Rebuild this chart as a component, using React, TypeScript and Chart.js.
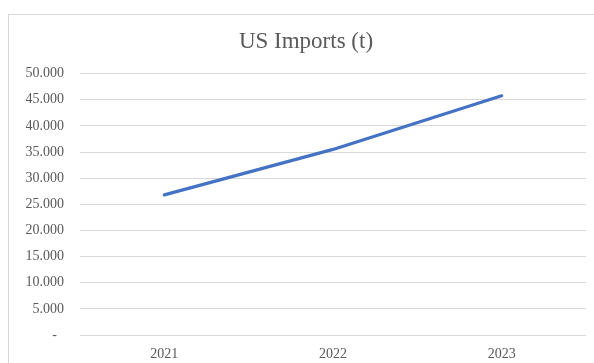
import React, { useEffect, useRef } from "react";
import { Chart, registerables } from "chart.js";

Chart.register(...registerables);

const categories = ["2021", "2022", "2023"];
const imports = [26800, 35500, 45750];
const yTicks = [0, 5000, 10000, 15000, 20000, 25000, 30000, 35000, 40000, 45000, 50000];
const titleText = "US Imports (t)";

const FONT = "'Liberation Serif', 'Times New Roman', serif";
const TEXT = "#595959";
const GRID = "#d9d9d9";

function fmt(v: number): string {
  if (v === 0) return "-  ";
  return v.toLocaleString("de-DE");
}

export default function App() {
  const ref = useRef<HTMLCanvasElement | null>(null);

  useEffect(() => {
    if (!ref.current) return;
    const chart = new Chart(ref.current, {
      type: "line",
      data: {
        labels: categories,
        datasets: [
          {
            label: titleText,
            data: imports,
            borderColor: "#4472C4",
            backgroundColor: "#4472C4",
            borderWidth: 3.2,
            pointRadius: 0,
            pointHoverRadius: 0,
            tension: 0,
            borderCapStyle: "round",
            borderJoinStyle: "round",
            fill: false,
          },
        ],
      },
      options: {
        responsive: false,
        animation: false,
        devicePixelRatio: 1,
        layout: { padding: { left: 17, right: 17, top: 0, bottom: 0 } },
        plugins: {
          legend: { display: false },
          tooltip: { enabled: false },
          title: {
            display: true,
            text: titleText,
            color: TEXT,
            font: { family: FONT, size: 23, weight: "normal" },
            padding: { top: 13, bottom: 18 },
          },
        },
        scales: {
          x: {
            type: "category",
            offset: true,
            grid: { display: false, drawTicks: false },
            border: { display: false },
            ticks: {
              color: TEXT,
              font: { family: FONT, size: 14 },
              padding: 11,
              maxRotation: 0,
            },
            afterFit: (s: any) => {
              s.height = 28;
            },
          },
          y: {
            min: 0,
            max: 50000,
            grid: { color: GRID, lineWidth: 1, drawTicks: false },
            border: { display: false },
            afterBuildTicks: (s: any) => {
              s.ticks = yTicks.map((v) => ({ value: v }));
            },
            ticks: {
              color: TEXT,
              font: { family: FONT, size: 14 },
              padding: 16,
              callback: (v: any) => fmt(Number(v)),
            },
            afterFit: (s: any) => {
              s.width = 54;
            },
          },
        },
      },
    });
    return () => chart.destroy();
  }, []);

  return (
    <div
      style={{
        position: "fixed",
        left: 0,
        top: 0,
        width: 594,
        height: 363,
        overflow: "hidden",
        background: "#ffffff",
      }}
    >
      <div
        style={{
          position: "absolute",
          left: 8,
          top: 14,
          width: 640,
          height: 420,
          borderTop: "1px solid #d9d9d9",
          borderLeft: "1px solid #d9d9d9",
          background: "#ffffff",
        }}
      >
        <canvas
          ref={ref}
          width={594}
          height={348}
          style={{ display: "block", width: 594, height: 348 }}
        />
      </div>
    </div>
  );
}
